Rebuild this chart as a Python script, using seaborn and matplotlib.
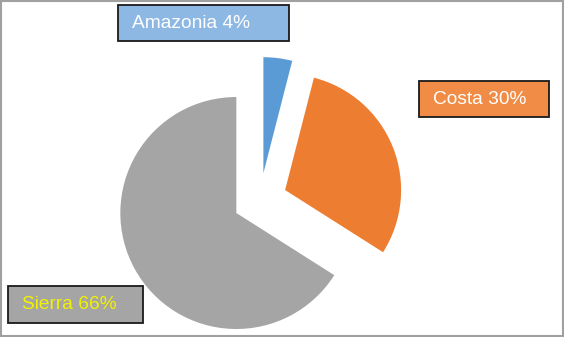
import matplotlib
matplotlib.use("Agg")
import matplotlib.pyplot as plt
import seaborn as sns
from matplotlib.patches import Rectangle

# data
regions = ["Amazonia", "Costa", "Sierra"]
shares = [4, 30, 66]
slice_colors = ["#5B9BD5", "#ED7D31", "#A5A5A5"]
box_colors = ["#8EB8E4", "#F08C46", "#A5A5A5"]
text_colors = ["white", "white", "#F2F200"]

sns.set_theme(style="white")
plt.rcParams['font.family'] = ['Liberation Sans', 'DejaVu Sans']

fig = plt.figure(figsize=(5.64, 3.37), dpi=100)
ax = fig.add_axes([0, 0, 1, 1])
ax.set_xlim(0, 564)
ax.set_ylim(0, 337)
ax.set_aspect("equal")
ax.axis("off")

# pie in pixel units (y measured from bottom)
wedges, _ = ax.pie(shares, colors=slice_colors, startangle=90, counterclock=False,
                   radius=116, center=(260, 337 - 200), explode=[27, 27, 27],
                   wedgeprops=dict(linewidth=0))
ax.set_xlim(0, 564)
ax.set_ylim(0, 337)

# label boxes: (left, top, right, bottom) in pixels
boxes = [(118, 5, 289, 41), (419, 81, 549, 117), (8, 286, 143, 323)]
for name, pct, (l, t, r, b), fc, tc in zip(regions, shares, boxes, box_colors, text_colors):
    ax.add_patch(Rectangle((l, 337 - b), r - l, b - t, facecolor=fc,
                           edgecolor="#1a1a1a", linewidth=1.3, zorder=3))
    ax.text(l + 14, 337 - (t + b) / 2, f"{name} {pct}%", color=tc, fontsize=13.8,
            ha="left", va="center", zorder=4)

# figure border
fig.patches.append(Rectangle((0.001, 0.002), 0.997, 0.996, transform=fig.transFigure,
                             fill=False, edgecolor="#a0a0a0", linewidth=1.5))

fig.savefig("out.png", dpi=100)
